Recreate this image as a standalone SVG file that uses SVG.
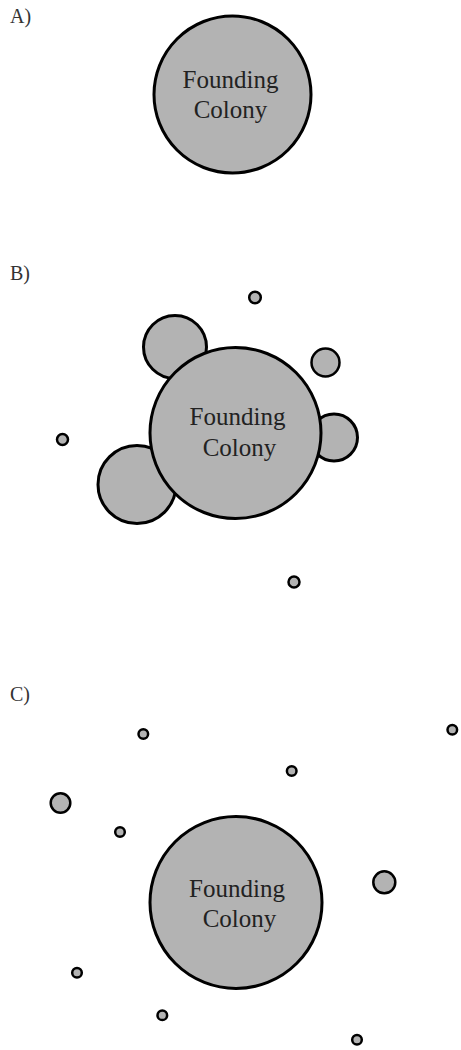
<svg xmlns="http://www.w3.org/2000/svg" width="461" height="1050" viewBox="0 0 461 1050">
<style>
.c{fill:#b3b3b3;stroke:#000;stroke-width:3}
.s{fill:#b3b3b3;stroke:#000;stroke-width:2.5}
.t{font-family:"Liberation Serif",serif;font-size:25px;fill:#222;text-anchor:middle}
.l{font-family:"Liberation Serif",serif;font-size:20px;fill:#333}
</style>
<rect width="461" height="1050" fill="#fff"/>
<g id="panelA">
<text class="l" x="10" y="22.5">A)</text>
<g id="A-founding">
<circle class="c" cx="232.5" cy="94.5" r="78.5"/>
<text class="t" x="230.5" y="87.5">Founding</text>
<text class="t" x="230.5" y="117.5">Colony</text>
</g>
</g>
<g id="panelB">
<text class="l" x="10" y="280">B)</text>
<circle id="B-c1" class="c" cx="175" cy="347" r="31.5"/>
<circle id="B-c2" class="c" cx="137" cy="484.5" r="39"/>
<circle id="B-c3" class="c" cx="334" cy="437.5" r="23.5"/>
<circle id="B-c4" class="s" cx="325.5" cy="362.5" r="14"/>
<circle id="B-c5" class="s" cx="255" cy="297.5" r="5.8"/>
<circle id="B-c6" class="s" cx="62.5" cy="439.5" r="5.5"/>
<circle id="B-c7" class="s" cx="294" cy="582" r="5.5"/>
<g id="B-founding">
<circle class="c" cx="235.5" cy="433" r="85.5"/>
<text class="t" x="237.5" y="425">Founding</text>
<text class="t" x="239.5" y="455.5">Colony</text>
</g>
</g>
<g id="panelC">
<text class="l" x="10" y="700.5">C)</text>
<g id="C-founding">
<circle class="c" cx="236" cy="902.5" r="86"/>
<text class="t" x="237" y="896.5">Founding</text>
<text class="t" x="239.5" y="926.5">Colony</text>
</g>
<circle id="C-c1" class="s" cx="143.3" cy="734" r="4.8"/>
<circle id="C-c2" class="s" cx="452.3" cy="729.7" r="4.8"/>
<circle id="C-c3" class="s" cx="291.7" cy="771" r="4.8"/>
<circle id="C-c4" class="s" cx="60.5" cy="803" r="9.8"/>
<circle id="C-c5" class="s" cx="120" cy="832" r="4.8"/>
<circle id="C-c6" class="s" cx="384.3" cy="882.3" r="11"/>
<circle id="C-c7" class="s" cx="77" cy="972.7" r="4.8"/>
<circle id="C-c8" class="s" cx="162.3" cy="1015.3" r="4.8"/>
<circle id="C-c9" class="s" cx="357" cy="1039.7" r="4.8"/>
</g>
</svg>
